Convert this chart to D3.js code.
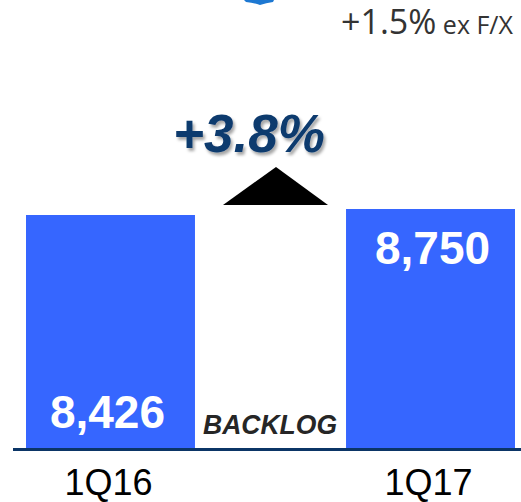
<!DOCTYPE html>
<html lang="en">
	<head>
		<meta charset="utf-8">
		<title>Backlog</title>
		<script type="text/javascript" src="https://cdn.jsdelivr.net/npm/d3@7"></script>
		<style type="text/css">
			body { margin: 0; background: #fff; }
			text { font-family: "Liberation Sans", Arial, sans-serif; }
			text.note { font-family: "Open Sans", sans-serif; }
		</style>
	</head>
	<body>
		<script type="text/javascript">

			//Width and height
			var w = 521;
			var h = 502;

			var categories = ["1Q16", "1Q17"];
			var values = [8426, 8750];
			var valueLabels = ["8,426", "8,750"];
			var changeLabel = "+3.8%";
			var fxLabel = ["+1.5%", " ex F/X"];
			var seriesLabel = "BACKLOG";

			var baseY = 448;

			var xScale = d3.scaleBand()
							.domain(categories)
							.range([26, 515])
							.paddingInner(0.472)
							.paddingOuter(0);

			// axis does not start at zero in the original
			var yScale = d3.scaleLinear()
							.domain([8426, 8750])
							.range([215, 209]);

			var svg = d3.select("body")
						.append("svg")
						.attr("width", w)
						.attr("height", h);

			var defs = svg.append("defs");
			var f = defs.append("filter").attr("id", "shadow")
						.attr("x", "-10%").attr("y", "-10%")
						.attr("width", "130%").attr("height", "140%");
			f.append("feDropShadow")
				.attr("dx", 2).attr("dy", 3)
				.attr("stdDeviation", 1.5)
				.attr("flood-color", "#000")
				.attr("flood-opacity", 0.35);

			//Blue shape cut off at top
			svg.append("path")
				.attr("d", "M244,0 L274,0 L273,2 Q266,3 260,5 Q254,3 246,2 Z")
				.attr("fill", "#1d78d2");

			//Bars
			svg.selectAll("rect.bar")
			   .data(values)
			   .enter()
			   .append("rect")
			   .attr("class", "bar")
			   .attr("x", function(d, i) { return xScale(categories[i]); })
			   .attr("y", function(d) { return yScale(d); })
			   .attr("width", xScale.bandwidth())
			   .attr("height", function(d) { return baseY - yScale(d); })
			   .attr("fill", "#3666ff");

			//Baseline
			svg.append("rect")
				.attr("x", 13)
				.attr("y", baseY)
				.attr("width", w - 13)
				.attr("height", 3)
				.attr("fill", "#0b3566");

			//Value labels: first one at bottom, second at top
			svg.selectAll("text.val")
			   .data(values)
			   .enter()
			   .append("text")
			   .attr("class", "val")
			   .text(function(d, i) { return valueLabels[i]; })
			   .attr("x", function(d, i) { return xScale(categories[i]) + xScale.bandwidth() / 2 - (i == 0 ? 3 : -2); })
			   .attr("y", function(d, i) { return i == 0 ? 428 : yScale(d) + 55; })
			   .attr("text-anchor", "middle")
			   .attr("font-size", 46)
			   .attr("font-weight", "bold")
			   .attr("fill", "#fff");

			//Category labels
			svg.selectAll("text.cat")
			   .data(categories)
			   .enter()
			   .append("text")
			   .attr("class", "cat")
			   .text(function(d) { return d; })
			   .attr("x", function(d) { return xScale(d) + xScale.bandwidth() / 2 - 2; })
			   .attr("y", 495)
			   .attr("text-anchor", "middle")
			   .attr("font-size", 36)
			   .attr("fill", "#000");

			//BACKLOG
			svg.append("text")
				.text(seriesLabel)
				.attr("x", 203)
				.attr("y", 434)
				.attr("font-size", 28)
				.attr("font-weight", "bold")
				.attr("font-style", "italic")
				.attr("textLength", 134)
				.attr("lengthAdjust", "spacingAndGlyphs")
				.attr("fill", "#262626");

			//Up triangle
			svg.append("path")
				.attr("d", "M223,205 L276,167 L328,205 Z")
				.attr("fill", "#000");

			//Change label
			svg.append("text")
				.text(changeLabel)
				.attr("x", 249)
				.attr("y", 152)
				.attr("text-anchor", "middle")
				.attr("font-size", 53)
				.attr("font-weight", "bold")
				.attr("font-style", "italic")
				.attr("fill", "#0f3a6e")
				.attr("filter", "url(#shadow)");

			//ex F/X note
			var fx = svg.append("text")
				.attr("class", "note")
				.attr("x", 341)
				.attr("y", 34)
				.attr("fill", "#333");
			fx.append("tspan").attr("font-size", 34).text(fxLabel[0]);
			fx.append("tspan").attr("font-size", 25).text(fxLabel[1]);

		</script>
	</body>
</html>
